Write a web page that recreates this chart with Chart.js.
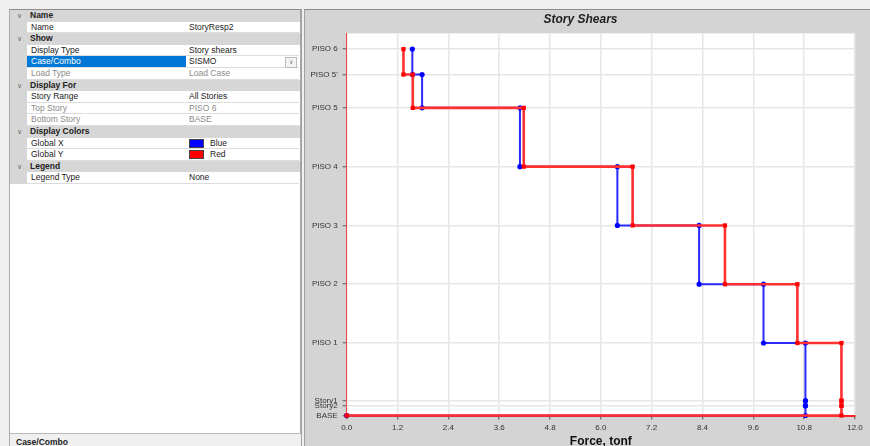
<!DOCTYPE html>
<html>
<head>
<meta charset="utf-8">
<script src="https://cdn.jsdelivr.net/npm/chart.js@4/dist/chart.umd.min.js"></script>
<style>
  html, body { margin: 0; padding: 0; }
  body { width: 870px; height: 446px; overflow: hidden; background: #f0f0f0; position: relative;
         font-family: 'Liberation Sans', Arial, sans-serif; font-size: 8.5px; color: #222; }
  #grid { position: absolute; left: 9px; top: 9px; width: 290px; height: 423px; background: #fff;
          border-top: 1px solid #8c8c8c; border-left: 1px solid #a8a8a8; border-right: 1px solid #a8a8a8; }
  .row { position: absolute; left: 0; width: 290px; height: 11.6px; line-height: 11.6px; }
  .hdr { background: #d6d6d6; font-weight: bold; }
  .hdr .chev { position: absolute; left: 7px; top: 0; color: #666; font-weight: normal; font-size: 7px; }
  .hdr .lbl { position: absolute; left: 20px; }
  .gut { position: absolute; left: 0; top: 0; width: 17px; height: 100%; background: #d6d6d6; }
  .nm { position: absolute; left: 17px; top: 0; width: 157px; height: 10.6px; padding-left: 4px; background: #fff;
        border-bottom: 1px solid #dcdcdc; border-right: 1px solid #dcdcdc; }
  .vl { position: absolute; left: 176px; top: 0; width: 110px; height: 10.6px; padding-left: 3px; background: #fff;
        border-bottom: 1px solid #dcdcdc; }
  .dis { color: #8a8a8a; }
  .sel { background: #0078d7; color: #fff; }
  .sw { display: inline-block; width: 15px; height: 9px; vertical-align: -2px; margin-right: 6px; border: 1px solid #444; box-sizing: border-box; }
  .dd { position: absolute; right: 2px; top: 1px; width: 10px; height: 9px; border: 1px solid #bbb; background: #f4f4f4;
        font-size: 6px; line-height: 9px; text-align: center; color: #777; }
  #bar { position: absolute; left: 9px; top: 433px; width: 291px; height: 13px; background: #f0f0f0;
         border-top: 1px solid #b8b8b8; border-left: 1px solid #a8a8a8; }
  #bar span { position: absolute; left: 6px; top: 3px; font-weight: bold; font-size: 8.5px; }
  #sep { position: absolute; left: 301px; top: 9px; width: 1px; height: 437px; background: #a0a0a0; }
  #panel { position: absolute; left: 304px; top: 9px; width: 566px; height: 437px; background: #d4d4d4;
           border-top: 1px solid #8c8c8c; border-left: 1px solid #a0a0a0; }
  #chart { position: absolute; left: 306px; top: 10px; }
</style>
</head>
<body>
<div id="grid"></div>
<div id="bar"><span>Case/Combo</span></div>
<div id="sep"></div>
<div id="panel"></div>
<canvas id="chart" width="564" height="440"></canvas>
<script>
// Story levels, bottom to top
var levelNames = ['BASE', 'Story2', 'Story1', 'PISO 1', 'PISO 2', 'PISO 3', 'PISO 4', 'PISO 5', "PISO 5'", 'PISO 6'];
var levelElev = [0, 0.5, 0.75, 3.7, 6.7, 9.7, 12.7, 15.7, 17.4, 18.7];
var elevMax = 19.5;

// Story shear (tonf) for each story above BASE: Story2 .. PISO 6
var shearX = [10.83, 10.83, 10.83, 9.84, 8.32, 6.39, 4.09, 1.78, 1.55];
var shearY = [11.68, 11.68, 11.68, 10.64, 8.93, 6.75, 4.18, 1.56, 1.34];

var xTicks = [0, 1.2, 2.4, 3.6, 4.8, 6.0, 7.2, 8.4, 9.6, 10.8, 12.0];

// property grid rows
var props = [
  ['h', 'Name'],
  ['r', 'Name', 'StoryResp2'],
  ['h', 'Show'],
  ['r', 'Display Type', 'Story shears'],
  ['s', 'Case/Combo', 'SISMO'],
  ['d', 'Load Type', 'Load Case'],
  ['h', 'Display For'],
  ['r', 'Story Range', 'All Stories'],
  ['d', 'Top Story', 'PISO 6'],
  ['d', 'Bottom Story', 'BASE'],
  ['h', 'Display Colors'],
  ['c', 'Global X', 'Blue', '#0000ff'],
  ['c', 'Global Y', 'Red', '#ff0000'],
  ['h', 'Legend'],
  ['r', 'Legend Type', 'None']
];

var grid = document.getElementById('grid');
props.forEach(function (p, i) {
  var row = document.createElement('div');
  row.className = 'row' + (p[0] === 'h' ? ' hdr' : '');
  row.style.top = (i * 11.6) + 'px';
  if (p[0] === 'h') {
    row.innerHTML = '<span class="chev">&#8744;</span><span class="lbl">' + p[1] + '</span>';
  } else {
    var cls = p[0] === 'd' ? ' dis' : '';
    var val = p[2];
    if (p[0] === 'c') val = '<span class="sw" style="background:' + p[3] + '"></span>' + p[2];
    if (p[0] === 's') val = p[2] + '<span class="dd">&#8744;</span>';
    row.innerHTML = '<div class="gut"></div>'
      + '<div class="nm' + cls + (p[0] === 's' ? ' sel' : '') + '">' + p[1] + '</div>'
      + '<div class="vl' + cls + '">' + val + '</div>';
  }
  grid.appendChild(row);
});

function stepPoints(shear) {
  var pts = [];
  for (var i = shear.length - 1; i >= 0; i--) {
    pts.push({ x: shear[i], y: levelElev[i + 1] });
    pts.push({ x: shear[i], y: levelElev[i] });
  }
  pts.push({ x: 0, y: 0 });
  return pts;
}

var plotBg = {
  id: 'plotBg',
  beforeDraw: function (chart) {
    var a = chart.chartArea, c = chart.ctx;
    c.save();
    c.fillStyle = '#ffffff';
    c.fillRect(a.left, a.top, a.right - a.left, a.bottom - a.top);
    c.restore();
  }
};

var tickFont = { family: "'Liberation Sans', Arial, sans-serif", size: 8 };

new Chart(document.getElementById('chart').getContext('2d'), {
  type: 'scatter',
  data: {
    datasets: [
      { label: 'Global Y', data: stepPoints(shearY), showLine: true, clip: false,
        borderColor: '#ff3030', borderWidth: 2.6,
        pointStyle: 'rect', pointRadius: 3, pointBackgroundColor: '#ff0000', pointBorderColor: '#ff0000', pointBorderWidth: 0 },
      { label: 'Global X', data: stepPoints(shearX), showLine: true, clip: false,
        borderColor: '#2a2aff', borderWidth: 2,
        pointStyle: 'circle', pointRadius: 2.6, pointBackgroundColor: '#0000ff', pointBorderColor: '#0000ff', pointBorderWidth: 0 }
    ]
  },
  options: {
    responsive: false, animation: false, devicePixelRatio: 1,
    layout: { padding: { top: 0, right: 15, bottom: 0, left: 0 } },
    plugins: {
      legend: { display: false },
      tooltip: { enabled: false },
      title: { display: true, text: 'Story Shears', color: '#222',
               font: { family: "'Liberation Sans', Arial, sans-serif", size: 12, weight: 'bold', style: 'italic' },
               padding: { top: 2, bottom: 7 } }
    },
    scales: {
      x: {
        type: 'linear', min: 0, max: 12,
        afterBuildTicks: function (s) { s.ticks = xTicks.map(function (v) { return { value: v }; }); },
        afterFit: function (s) { s.height = 34.5; },
        grid: { color: '#e6e6e6', lineWidth: 1.5, tickColor: '#555', tickLength: 4, tickWidth: 1 },
        border: { color: '#ff2020', width: 2 },
        ticks: { color: '#333', font: tickFont, padding: 3, maxRotation: 0, autoSkip: false,
                 callback: function (v) { return Number(v).toFixed(1); } },
        title: { display: true, text: 'Force, tonf', color: '#111',
                 font: { family: "'Liberation Sans', Arial, sans-serif", size: 12, weight: 'bold' },
                 padding: { top: 0, bottom: 1 } }
      },
      y: {
        type: 'linear', min: 0, max: elevMax,
        afterBuildTicks: function (s) { s.ticks = levelElev.map(function (v) { return { value: v }; }); },
        afterFit: function (s) { s.width = 40.7; },
        grid: { color: '#e6e6e6', lineWidth: 1.5, tickColor: '#555', tickLength: 4, tickWidth: 1 },
        border: { color: 'rgba(255,0,0,0.7)', width: 1 },
        ticks: { color: '#333', font: tickFont, padding: 5, autoSkip: false,
                 callback: function (v) { var i = levelElev.indexOf(v); return i >= 0 ? levelNames[i] : ''; } }
      }
    }
  },
  plugins: [plotBg]
});
</script>
</body>
</html>
